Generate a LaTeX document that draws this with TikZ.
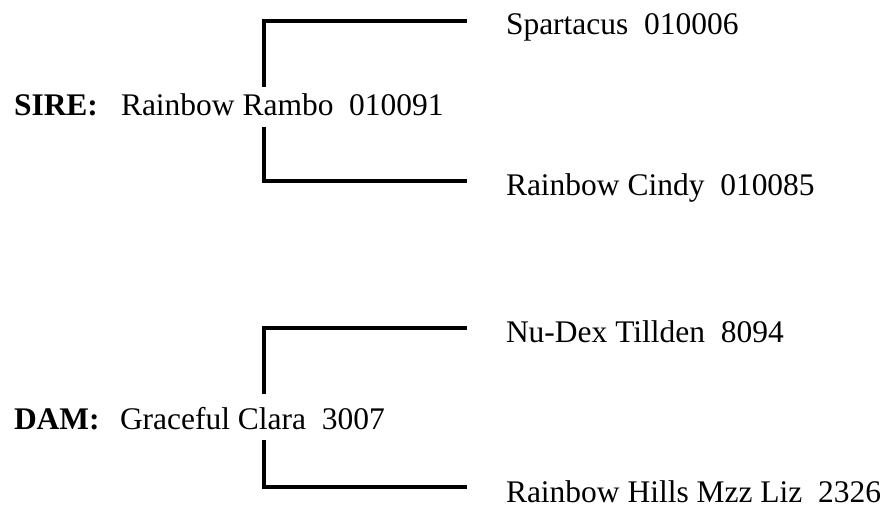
\documentclass[tikz,border=0pt]{standalone}
\usepackage{fontspec}
\setmainfont{Liberation Serif}
\begin{document}
\begin{tikzpicture}[x=1bp,y=-1bp,
  lbl/.style={inner sep=0pt,outer sep=0pt,anchor=base west,font=\fontsize{31.6pt}{38pt}\selectfont},
  brk/.style={line width=4bp,line join=miter,line cap=butt}]
\useasboundingbox (0,0) rectangle (890,506);
% labels
\node[lbl] (sirelbl) at (14,116) {\bfseries SIRE:};
\node[lbl] (sire) at (121,116) {Rainbow Rambo\ \ 010091};
\node[lbl] (ss) at (506,35) {Spartacus\ \ 010006};
\node[lbl] (sd) at (506,196) {Rainbow Cindy\ \ 010085};
\node[lbl] (damlbl) at (14,429) {\bfseries DAM:};
\node[lbl] (dam) at (120,429) {Graceful Clara\ \ 3007};
\node[lbl] (ds) at (506,343) {Nu-Dex Tillden\ \ 8094};
\node[lbl] (dd) at (506,502) {Rainbow Hills Mzz Liz\ \ 2326};
% bracket anchor points
\coordinate (s1) at (264,87);
\coordinate (s2) at (264,127);
\coordinate (ssend) at (467,21);
\coordinate (sdend) at (467,181);
\coordinate (d1) at (264,394);
\coordinate (d2) at (264,440);
\coordinate (dsend) at (467,328);
\coordinate (ddend) at (467,487);
% brackets
\draw[brk] (s1) |- (ssend);
\draw[brk] (s2) |- (sdend);
\draw[brk] (d1) |- (dsend);
\draw[brk] (d2) |- (ddend);
\end{tikzpicture}
\end{document}
